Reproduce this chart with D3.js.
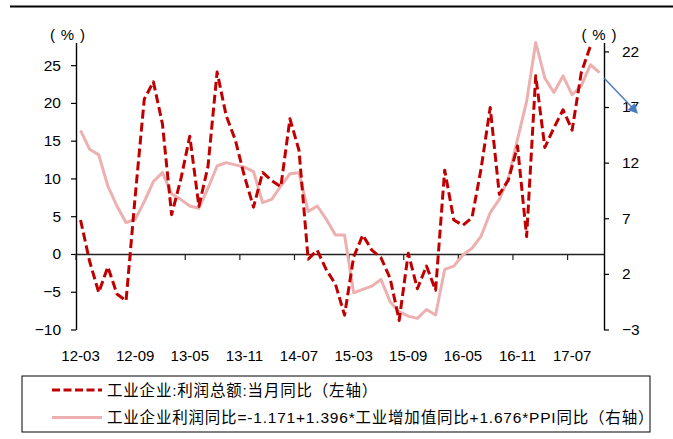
<!DOCTYPE html>
<html>
<head>
<meta charset="utf-8">
<script src="https://cdn.jsdelivr.net/npm/d3@7"></script>
<style>
  html, body { margin: 0; padding: 0; background: #fff; }
  svg text { font-family: "Liberation Sans", Arial, "Noto Sans CJK SC", sans-serif; fill: #000; }
</style>
</head>
<body>
<svg id="chart" width="673" height="439"></svg>
<script>
// Monthly categories (Jan/Feb are not published separately): 2012-03 .. 2017-10
const years = ["12", "13", "14", "15", "16", "17"];
const months = ["03", "04", "05", "06", "07", "08", "09", "10", "11", "12"];
const categories = [];
years.forEach(y => months.forEach(m => {
  if (y !== "17" || +m <= 10) categories.push(y + "-" + m);
}));

// 工业企业:利润总额:当月同比 (%, left axis)
const profitYoY = [
  4.5, -1.0, -5.1, -1.7, -5.3, -6.2, 7.6, 20.5, 22.8, 17.2,
  5.2, 9.8, 15.6, 6.3, 11.6, 24.1, 18.3, 15.1, 10.3, 6.2,
  10.8, 9.7, 8.9, 17.9, 13.7, -0.7, 0.5, -2.1, -4.0, -8.1,
  -0.4, 2.5, 0.5, -0.5, -3.2, -8.8, 0.1, -4.6, -1.6, -4.8,
  11.1, 4.5, 3.8, 4.8, 11.3, 19.4, 7.9, 9.8, 14.3, 2.3,
  23.6, 14.1, 16.7, 19.1, 16.4, 24.0, 27.5
];

// Fitted: -1.171 + 1.396*IVA yoy + 1.676*PPI yoy (%, right axis)
const fittedYoY = [
  14.9, 13.2, 12.7, 9.9, 8.1, 6.6, 6.9, 8.5, 10.3, 11.1,
  9.2, 8.7, 8.1, 7.9, 9.7, 11.7, 12.0, 11.8, 11.6, 11.2,
  8.4, 8.7, 9.9, 11.0, 11.1, 7.6, 8.1, 6.9, 5.5, 5.5,
  0.3, 0.6, 0.9, 1.5, -0.5, -1.4, -1.8, -2.0, -1.2, -1.7,
  2.4, 2.7, 3.7, 4.3, 5.4, 7.5, 8.7, 10.6, 14.1, 17.5,
  22.8, 19.6, 18.3, 19.8, 18.1, 18.9, 20.8, 20.1
];

const leftTicks = [-10, -5, 0, 5, 10, 15, 20, 25];
const rightTicks = [-3, 2, 7, 12, 17, 22];

const seriesNames = [
  "工业企业:利润总额:当月同比（左轴）",
  "工业企业利润同比=-1.171+1.396*工业增加值同比+1.676*PPI同比（右轴）"
];

const RED = "#C00000";
const PINK = "#EDB0B0";

const svg = d3.select("#chart");
const plot = { left: 76, right: 604, top: 42.5, bottom: 329.5 };

const x = d3.scaleBand().domain(categories).range([plot.left, plot.right]).padding(0);
const yL = d3.scaleLinear().domain([-10, 28]).range([plot.bottom, plot.top]);
const yR = d3.scaleLinear().domain([-3, 22.8]).range([plot.bottom, plot.top]);
const bw = x.bandwidth();
const cx = c => x(c) + bw / 2;

// top rule
svg.append("line")
  .attr("x1", 10).attr("x2", 673).attr("y1", 6.5).attr("y2", 6.5)
  .attr("stroke", "#000").attr("stroke-width", 2.2);

// left axis
const gL = svg.append("g").attr("transform", `translate(${plot.left},0)`)
  .call(d3.axisLeft(yL).tickValues(leftTicks).tickSize(5).tickPadding(10).tickSizeOuter(0));
// right axis
const gR = svg.append("g").attr("transform", `translate(${plot.right},0)`)
  .call(d3.axisRight(yR).tickValues(rightTicks).tickSize(5).tickPadding(13).tickSizeOuter(0));
[gL, gR].forEach(g => {
  g.select(".domain").attr("stroke", "#000").attr("stroke-width", 1.4);
  g.selectAll(".tick line").attr("stroke", "#000").attr("stroke-width", 1.2);
  g.selectAll(".tick text").attr("font-size", 15.5);
});

// x axis on the zero line of the left scale; ticks on band boundaries, labels under the plot
const every6 = categories.filter((c, i) => i % 6 === 0);
const gX = svg.append("g").attr("transform", `translate(0,${yL(0)})`)
  .call(d3.axisBottom(x).tickValues(every6).tickSize(6).tickSizeOuter(0));
gX.select(".domain").attr("stroke", "#222").attr("stroke-width", 1.4);
gX.selectAll(".tick line").attr("x1", -bw / 2).attr("x2", -bw / 2)
  .attr("stroke", "#222").attr("stroke-width", 1.2);
gX.selectAll(".tick text").attr("y", plot.bottom + 32 - yL(0)).attr("dy", 0)
  .attr("font-size", 15);

// unit labels: （%） with loosely spaced parentheses
function unitLabel(cxPos) {
  const g = svg.append("g").attr("font-size", 15);
  g.append("text").attr("x", cxPos - 15).attr("y", 40).attr("text-anchor", "middle").text("(");
  g.append("text").attr("x", cxPos).attr("y", 40).attr("text-anchor", "middle").text("%");
  g.append("text").attr("x", cxPos + 15).attr("y", 40).attr("text-anchor", "middle").text(")");
}
unitLabel(67.5);
unitLabel(599);

// series
const lineR = d3.line().x((d, i) => cx(categories[i])).y(d => yR(d));
const lineL = d3.line().x((d, i) => cx(categories[i])).y(d => yL(d));

svg.append("path").datum(fittedYoY).attr("d", lineR)
  .attr("fill", "none").attr("stroke", PINK).attr("stroke-width", 3)
  .attr("stroke-linejoin", "round");
svg.append("path").datum(profitYoY).attr("d", lineL)
  .attr("fill", "none").attr("stroke", RED).attr("stroke-width", 3)
  .attr("stroke-dasharray", "9,4").attr("stroke-linejoin", "round");

// arrow annotation from the right axis
const ax0 = plot.right, ay0 = yR(19.6);
const ax1 = plot.right + 34, ay1 = yR(16.4);
const ang = Math.atan2(ay1 - ay0, ax1 - ax0);
const BLUE = "#4A7EBB";
svg.append("line").attr("x1", ax0).attr("y1", ay0)
  .attr("x2", ax1 - 6 * Math.cos(ang)).attr("y2", ay1 - 6 * Math.sin(ang))
  .attr("stroke", BLUE).attr("stroke-width", 1.5);
const head = [[0, 0], [-10, -5], [-10, 5]].map(([px, py]) => [
  ax1 + px * Math.cos(ang) - py * Math.sin(ang),
  ay1 + px * Math.sin(ang) + py * Math.cos(ang)
]);
svg.append("path").attr("d", "M" + head.join("L") + "Z").attr("fill", BLUE);

// legend
const lg = svg.append("g");
lg.append("rect").attr("x", 22).attr("y", 376).attr("width", 628).attr("height", 56)
  .attr("fill", "#fff").attr("stroke", "#000").attr("stroke-width", 1);
const legendRows = [
  { name: seriesNames[0], color: RED, dash: "8,3.5", y: 390 },
  { name: seriesNames[1], color: PINK, dash: null, y: 417.5 }
];
legendRows.forEach(r => {
  lg.append("line").attr("x1", 52).attr("x2", 102).attr("y1", r.y).attr("y2", r.y)
    .attr("stroke", r.color).attr("stroke-width", 3)
    .attr("stroke-dasharray", r.dash);
  lg.append("text").attr("x", 107).attr("y", r.y + 5.5).attr("font-size", 15.5)
    .attr("letter-spacing", 0.8)
    .text(r.name);
});
</script>
</body>
</html>
